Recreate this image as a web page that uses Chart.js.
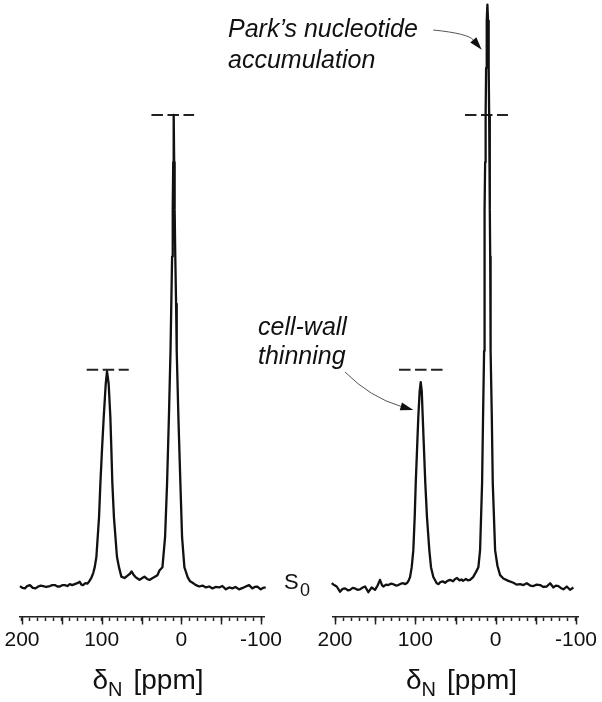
<!DOCTYPE html>
<html><head><meta charset="utf-8">
<script src="https://cdn.jsdelivr.net/npm/chart.js@4"></script>
<style>
html,body{margin:0;padding:0;background:#fff;}
#wrap{position:relative;width:602px;height:702px;overflow:hidden;background:#fff;}
canvas{position:absolute;top:0;}
#c1{left:0;width:300px;height:702px;}
#c2{left:200px;width:402px;height:702px;}
</style></head><body>
<div id="wrap"><canvas id="c1" width="300" height="702"></canvas><canvas id="c2" width="402" height="702"></canvas></div>
<script>
// ---------- data (chemical shift in ppm, intensity normalised to left main peak) ----------
const leftPpm = [202.5,199.5,196.3,193.5,190.0,186.5,183.0,179.6,176.5,173.4,169.5,165.0,162.0,158.8,155.5,152.5,149.0,146.3,143.0,140.0,137.0,133.8,130.5,127.5,125.5,123.4,120.5,118.0,116.0,112.8,110.5,108.7,106.6,103.3,101.6,99.6,97.4,94.9,93.3,91.2,89.1,87.8,86.6,84.6,80.8,78.3,75.3,71.3,67.5,64.5,62.5,60.0,57.5,55.0,52.5,49.0,46.3,43.0,40.0,37.0,33.8,30.0,27.5,23.7,20.4,17.9,15.6,13.6,12.6,11.6,10.8,10.2,9.6,9.0,8.4,7.6,6.6,5.8,3.7,1.2,-0.9,-3.8,-7.9,-11.0,-14.1,-18.4,-22.5,-26.5,-30.9,-35.0,-39.1,-43.0,-47.5,-51.5,-55.9,-60.0,-64.1,-68.0,-72.5,-77.0,-80.9,-85.0,-89.1,-92.0,-95.4,-99.6,-102.5,-105.9];
const leftInt = [0.002,-0.002,-0.003,0.002,0.004,-0.002,-0.003,0.001,0.003,0.002,0.000,0.002,0.004,0.004,0.001,0.001,0.004,0.004,0.002,0.006,0.004,0.006,0.008,0.011,0.005,0.004,0.008,0.007,0.011,0.020,0.030,0.042,0.064,0.148,0.220,0.290,0.360,0.430,0.457,0.430,0.360,0.290,0.220,0.148,0.064,0.042,0.022,0.019,0.024,0.028,0.033,0.026,0.021,0.018,0.015,0.019,0.022,0.017,0.015,0.018,0.021,0.025,0.035,0.042,0.106,0.220,0.360,0.500,0.600,0.700,0.800,0.900,1.000,0.900,0.800,0.700,0.600,0.500,0.360,0.220,0.106,0.042,0.021,0.012,0.009,0.004,0.001,0.003,-0.001,0.001,-0.003,0.000,-0.001,0.002,-0.005,-0.001,-0.003,0.000,-0.005,-0.002,0.001,0.004,-0.003,0.000,0.001,-0.005,-0.002,-0.001];

const rightPpm = [204.1,201.0,197.9,193.8,190.5,187.5,184.0,181.3,178.0,175.1,172.0,168.9,165.5,162.6,158.5,154.3,150.2,147.0,144.0,141.5,139.8,136.5,133.6,130.5,127.4,124.0,121.2,118.0,115.0,112.5,110.0,108.5,106.6,104.5,102.5,100.8,99.5,97.9,96.3,94.6,93.3,92.0,90.8,89.2,87.6,85.5,82.6,80.5,77.6,73.4,71.0,69.2,66.0,63.0,60.0,56.8,53.0,50.5,48.1,45.0,42.5,40.6,37.0,34.5,31.9,28.1,24.4,21.5,19.4,16.9,15.7,14.4,14.1,13.8,13.5,13.1,12.5,11.9,11.1,10.3,9.5,8.7,8.1,7.5,7.1,6.8,6.5,6.1,4.8,3.6,0.7,-2.2,-5.5,-9.6,-15.8,-22.1,-26.0,-30.4,-34.5,-38.7,-43.0,-47.0,-51.0,-55.3,-59.5,-63.6,-67.8,-71.9,-75.0,-78.1,-81.0,-84.3,-88.5,-92.6,-96.7];
const rightInt = [0.008,0.004,0.001,-0.010,-0.004,-0.003,-0.007,-0.006,-0.002,-0.003,-0.006,-0.005,-0.001,0.001,-0.011,-0.001,-0.006,0.003,0.015,0.004,0.001,0.005,0.004,0.007,0.006,0.003,0.004,0.007,0.008,0.006,0.009,0.013,0.021,0.042,0.078,0.148,0.220,0.290,0.360,0.415,0.434,0.415,0.360,0.290,0.220,0.148,0.078,0.042,0.021,0.008,0.006,0.010,0.012,0.009,0.013,0.015,0.012,0.017,0.019,0.014,0.016,0.013,0.017,0.014,0.015,0.021,0.032,0.042,0.078,0.220,0.360,0.500,0.600,0.700,0.800,0.900,1.000,1.100,1.200,1.234,1.200,1.100,1.000,0.900,0.800,0.700,0.600,0.500,0.360,0.220,0.078,0.045,0.025,0.018,0.013,0.009,0.005,0.006,0.004,0.008,0.003,0.002,0.005,0.004,0.000,0.001,0.008,-0.001,0.003,0.002,-0.002,-0.005,0.001,-0.006,-0.001];

// reference levels (heights of the two S0 peaks) drawn as dashed markers
const dashLevels = [0.46, 1.0];
const leftDashFrom = [118.8, 37.5];
const leftDashTo   = [66.0, -16.0];
const rightDashFrom = [120.3, 38.2];
const rightDashTo   = [65.6, -15.3];

// axis ticks
const tickValues = [-100,-90,-80,-70,-60,-50,-40,-30,-20,-10,0,10,20,30,40,50,60,70,80,90,100,110,120,130,140,150,160,170,180,190,200];
const majorTicks = [-100,-50,0,50,100,150,200];
const labelValues = [-100,0,100,200];

// annotation arrow tips (ppm, intensity) on the right spectrum
const parkTip = [17.4, 1.138];
const wallTip = [102.5, 0.375];

const FONT = '"Liberation Sans", Arial, Helvetica, sans-serif';
const INK = '#111';

function toXY(px, iy){ return px.map((p,i)=>({x:p, y:iy[i]})); }

function drawAxisExtras(chart){
  const ctx = chart.ctx, xs = chart.scales.x, a = chart.chartArea;
  ctx.save();
  ctx.strokeStyle = '#222'; ctx.lineWidth = 1.5;
  majorTicks.forEach(v=>{
    const px = Math.round(xs.getPixelForValue(v)) + 0.5;
    ctx.beginPath(); ctx.moveTo(px, xs.top); ctx.lineTo(px, xs.top + 7.5); ctx.stroke();
  });
  // axis title  δN [ppm]
  const cx = (a.left + a.right)/2 + 6, y = 689;
  ctx.fillStyle = INK; ctx.textBaseline = 'alphabetic'; ctx.textAlign = 'left';
  const big = '28px ' + FONT, small = '20px ' + FONT;
  ctx.font = big; const w1 = ctx.measureText('δ').width, w3 = ctx.measureText('[ppm]').width;
  ctx.font = small; const w2 = ctx.measureText('N').width;
  const gap = 11, total = w1 + w2 + gap + w3;
  let x = cx - total/2;
  ctx.font = big; ctx.fillText('δ', x, y); x += w1;
  ctx.font = small; ctx.fillText('N', x, y + 7); x += w2 + gap;
  ctx.font = big; ctx.fillText('[ppm]', x, y);
  ctx.restore();
}

function arrow(ctx, sx, sy, cx, cy, tx, ty){
  const ang = Math.atan2(ty - cy, tx - cx);
  const L = 13, W = 4;
  const bx = tx - L*Math.cos(ang), by = ty - L*Math.sin(ang);
  ctx.beginPath(); ctx.moveTo(sx, sy); ctx.quadraticCurveTo(cx, cy, bx, by);
  ctx.strokeStyle = '#555'; ctx.lineWidth = 1; ctx.stroke();
  ctx.beginPath();
  ctx.moveTo(tx, ty);
  ctx.lineTo(bx - W*Math.sin(ang), by + W*Math.cos(ang));
  ctx.lineTo(bx + W*Math.sin(ang), by - W*Math.cos(ang));
  ctx.closePath(); ctx.fillStyle = '#111'; ctx.fill();
}

function drawRightExtras(chart){
  const ctx = chart.ctx, xs = chart.scales.x, ys = chart.scales.y;
  ctx.save();
  ctx.fillStyle = INK; ctx.textAlign = 'left'; ctx.textBaseline = 'alphabetic';
  // S0 label
  ctx.font = '22px ' + FONT; ctx.fillText('S', 84, 589);
  ctx.font = '18px ' + FONT; ctx.fillText('0', 100, 596);
  // annotations
  ctx.font = 'italic 25px ' + FONT;
  ctx.fillText('Park\u2019s nucleotide', 28, 37);
  ctx.fillText('accumulation', 28, 68);
  ctx.fillText('cell-wall', 58, 335);
  ctx.fillText('thinning', 58, 364);
  arrow(ctx, 233.3, 30, 267.9, 33.5, xs.getPixelForValue(parkTip[0]), ys.getPixelForValue(parkTip[1]));
  arrow(ctx, 145, 372, 170.5, 397.5, xs.getPixelForValue(wallTip[0]), ys.getPixelForValue(wallTip[1]));
  ctx.restore();
}

function makeChart(id, ppm, inten, dFrom, dTo, xmin, xmax, padL, padR, extra){
  const datasets = [{
    data: toXY(ppm, inten), borderColor: INK, borderWidth: 2.3, pointRadius: 0,
    tension: 0, clip: false, borderJoinStyle: 'round'
  }];
  dashLevels.forEach((lv, i)=>{
    datasets.push({data: [{x:dFrom[i], y:lv},{x:dTo[i], y:lv}], borderColor: '#222',
      borderWidth: 2, borderDash: [11.5, 4.5], pointRadius: 0, clip: false});
  });
  return new Chart(document.getElementById(id), {
    type: 'line',
    data: {datasets},
    options: {
      responsive: false, animation: false, devicePixelRatio: 1,
      layout: {padding: {left: padL, right: padR, top: 0, bottom: 0}},
      plugins: {legend: {display: false}, tooltip: {enabled: false}},
      scales: {
        x: {
          type: 'linear', reverse: true, min: xmin, max: xmax,
          afterBuildTicks: s => { s.ticks = tickValues.map(v => ({value: v})); },
          afterFit: s => { s.height = 85; },
          ticks: {autoSkip: false, maxRotation: 0, minRotation: 0, padding: 7, color: INK,
            font: {family: FONT, size: 21},
            callback: v => labelValues.includes(v) ? String(v) : ''},
          grid: {display: true, drawOnChartArea: false, drawTicks: true, tickLength: 4,
            tickWidth: 1.5, tickColor: '#222', color: '#222'},
          border: {display: true, color: '#222', width: 1.5}
        },
        y: {display: false, min: -0.0636, max: 1.2436}
      }
    },
    plugins: [{id: 'extras', afterDraw: c => { drawAxisExtras(c); if (extra) extra(c); }}]
  });
}

makeChart('c1', leftPpm, leftInt, leftDashFrom, leftDashTo, -103.75, 202.5, 20, 36, null);
makeChart('c2', rightPpm, rightInt, rightDashFrom, rightDashTo, -102.5, 202.5, 133, 24, drawRightExtras);
</script>
</body></html>
